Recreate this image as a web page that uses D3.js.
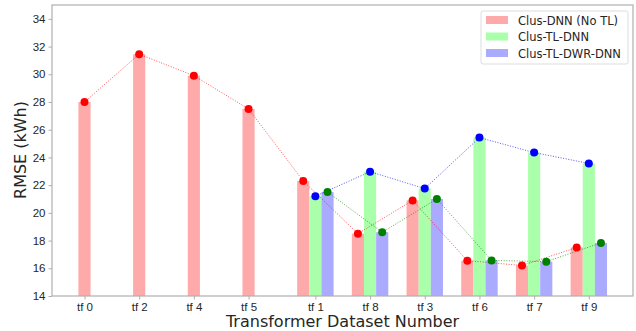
<!DOCTYPE html>
<html>
<head>
<meta charset="utf-8">
<script src="https://cdn.jsdelivr.net/npm/d3@7"></script>
<style>
  body { margin: 0; background: #fff; }
  svg { font-family: "DejaVu Sans", sans-serif; }
  .axis path, .axis line { stroke: #b0b0b0; }
  .axis text { fill: #262626; font-size: 11.5px; }
</style>
</head>
<body>
<svg width="636" height="331"></svg>
<script>
/* chart values */
var datasets = ["tf 0", "tf 2", "tf 4", "tf 5", "tf 1", "tf 8", "tf 3", "tf 6", "tf 7", "tf 9"];
var clusDnn = [28.0, 31.45, 29.9, 27.5, 22.3, 18.5, 20.9, 16.55, 16.2, 17.5];
// the TL models only exist for the last six datasets
var tlDatasets = ["tf 1", "tf 8", "tf 3", "tf 6", "tf 7", "tf 9"];
var clusTlDnn = [21.2, 22.97, 21.75, 25.43, 24.35, 23.57];
var clusTlDwrDnn = [21.5, 18.6, 21.0, 16.57, 16.48, 17.83];
var yTicks = [14, 16, 18, 20, 22, 24, 26, 28, 30, 32, 34];
var legendNames = ["Clus-DNN (No TL)", "Clus-TL-DNN", "Clus-TL-DWR-DNN"];

var svg = d3.select("svg"),
    margin = {top: 5, right: 3, bottom: 35, left: 52},
    width = +svg.attr("width") - margin.left - margin.right,
    height = +svg.attr("height") - margin.top - margin.bottom;

var barW = 0.222; // bar width in dataset units

/* x is a linear scale over the dataset index, the bars sit side by side */
var x = d3.scaleLinear().domain([-0.594, 10.03]).range([0, width]),
    y = d3.scaleLinear().domain([14, 35]).range([height, 0]);

var g = svg.append("g")
    .attr("transform", "translate(" + margin.left + "," + margin.top + ")");

function idx(name) { return datasets.indexOf(name); }

/* tick sits under the red bar when only one bar, else under the middle bar */
function tickPos(name) {
  return tlDatasets.indexOf(name) < 0 ? idx(name) : idx(name) + barW;
}

var red = datasets.map(function(d, i) { return {name: d, pos: i, value: clusDnn[i]}; });
var green = tlDatasets.map(function(d, i) { return {name: d, pos: idx(d) + barW, value: clusTlDnn[i]}; });
var blue = tlDatasets.map(function(d, i) { return {name: d, pos: idx(d) + 2 * barW, value: clusTlDwrDnn[i]}; });

function bars(data, fill) {
  g.selectAll(null)
    .data(data)
    .enter().append("rect")
      .attr("x", function(d) { return x(d.pos - barW / 2); })
      .attr("y", function(d) { return y(d.value); })
      .attr("width", x(barW) - x(0))
      .attr("height", function(d) { return height - y(d.value); })
      .attr("fill", fill);
}

bars(red, "#ffaaaa");
bars(green, "#aaffaa");
bars(blue, "#aaaaff");

/* dotted lines with markers; the blue markers follow the green bars and the green markers the blue bars */
function dottedLine(data, color) {
  var line = d3.line()
    .x(function(d) { return x(d.pos); })
    .y(function(d) { return y(d.value); });
  g.append("path")
    .datum(data)
    .attr("d", line)
    .attr("fill", "none")
    .attr("stroke", color)
    .attr("stroke-width", 0.9)
    .attr("stroke-dasharray", "1,1.6")
    .attr("opacity", 0.75);
  g.selectAll(null)
    .data(data)
    .enter().append("circle")
      .attr("cx", function(d) { return x(d.pos); })
      .attr("cy", function(d) { return y(d.value); })
      .attr("r", 4)
      .attr("fill", color);
}

dottedLine(red, "#ff0000");
dottedLine(green, "#0000ff");
dottedLine(blue, "#008000");

/* axes */
g.append("g")
    .attr("class", "axis axis--x")
    .attr("transform", "translate(0," + height + ")")
    .call(d3.axisBottom(x)
      .tickValues(datasets.map(tickPos))
      .tickFormat(function(v, i) { return datasets[i]; })
      .tickSize(3.5).tickSizeOuter(0))
    .call(function(a) { a.select(".domain").remove(); });

g.append("g")
    .attr("class", "axis axis--y")
    .call(d3.axisLeft(y).tickValues(yTicks).tickSize(3.5).tickSizeOuter(0))
    .call(function(a) { a.select(".domain").remove(); });

/* frame round the plot */
g.append("rect")
    .attr("width", width)
    .attr("height", height)
    .attr("fill", "none")
    .attr("stroke", "#b0b0b0")
    .attr("stroke-width", 1.2);

g.append("text")
    .attr("x", width / 2)
    .attr("y", height + 31)
    .attr("text-anchor", "middle")
    .attr("font-size", "16px")
    .attr("fill", "#262626")
    .text("Transformer Dataset Number");

svg.append("text")
    .attr("transform", "translate(26," + 150 + ") rotate(-90)")
    .attr("text-anchor", "middle")
    .attr("font-size", "16px")
    .attr("fill", "#262626")
    .text("RMSE (kWh)");

/* legend */
var legend = svg.append("g").attr("transform", "translate(481,11)");
legend.append("rect")
    .attr("width", 147).attr("height", 53).attr("rx", 2)
    .attr("fill", "#fff").attr("fill-opacity", 0.8)
    .attr("stroke", "#dddddd");
var legendColors = ["#ffaaaa", "#aaffaa", "#aaaaff"];
legendNames.forEach(function(name, i) {
  legend.append("rect")
      .attr("x", 5).attr("y", 5 + i * 16.5)
      .attr("width", 22).attr("height", 8)
      .attr("fill", legendColors[i]);
  legend.append("text")
      .attr("x", 37).attr("y", 13.5 + i * 16.5)
      .attr("font-size", "11.5px")
      .attr("fill", "#262626")
      .text(name);
});
</script>
</body>
</html>
